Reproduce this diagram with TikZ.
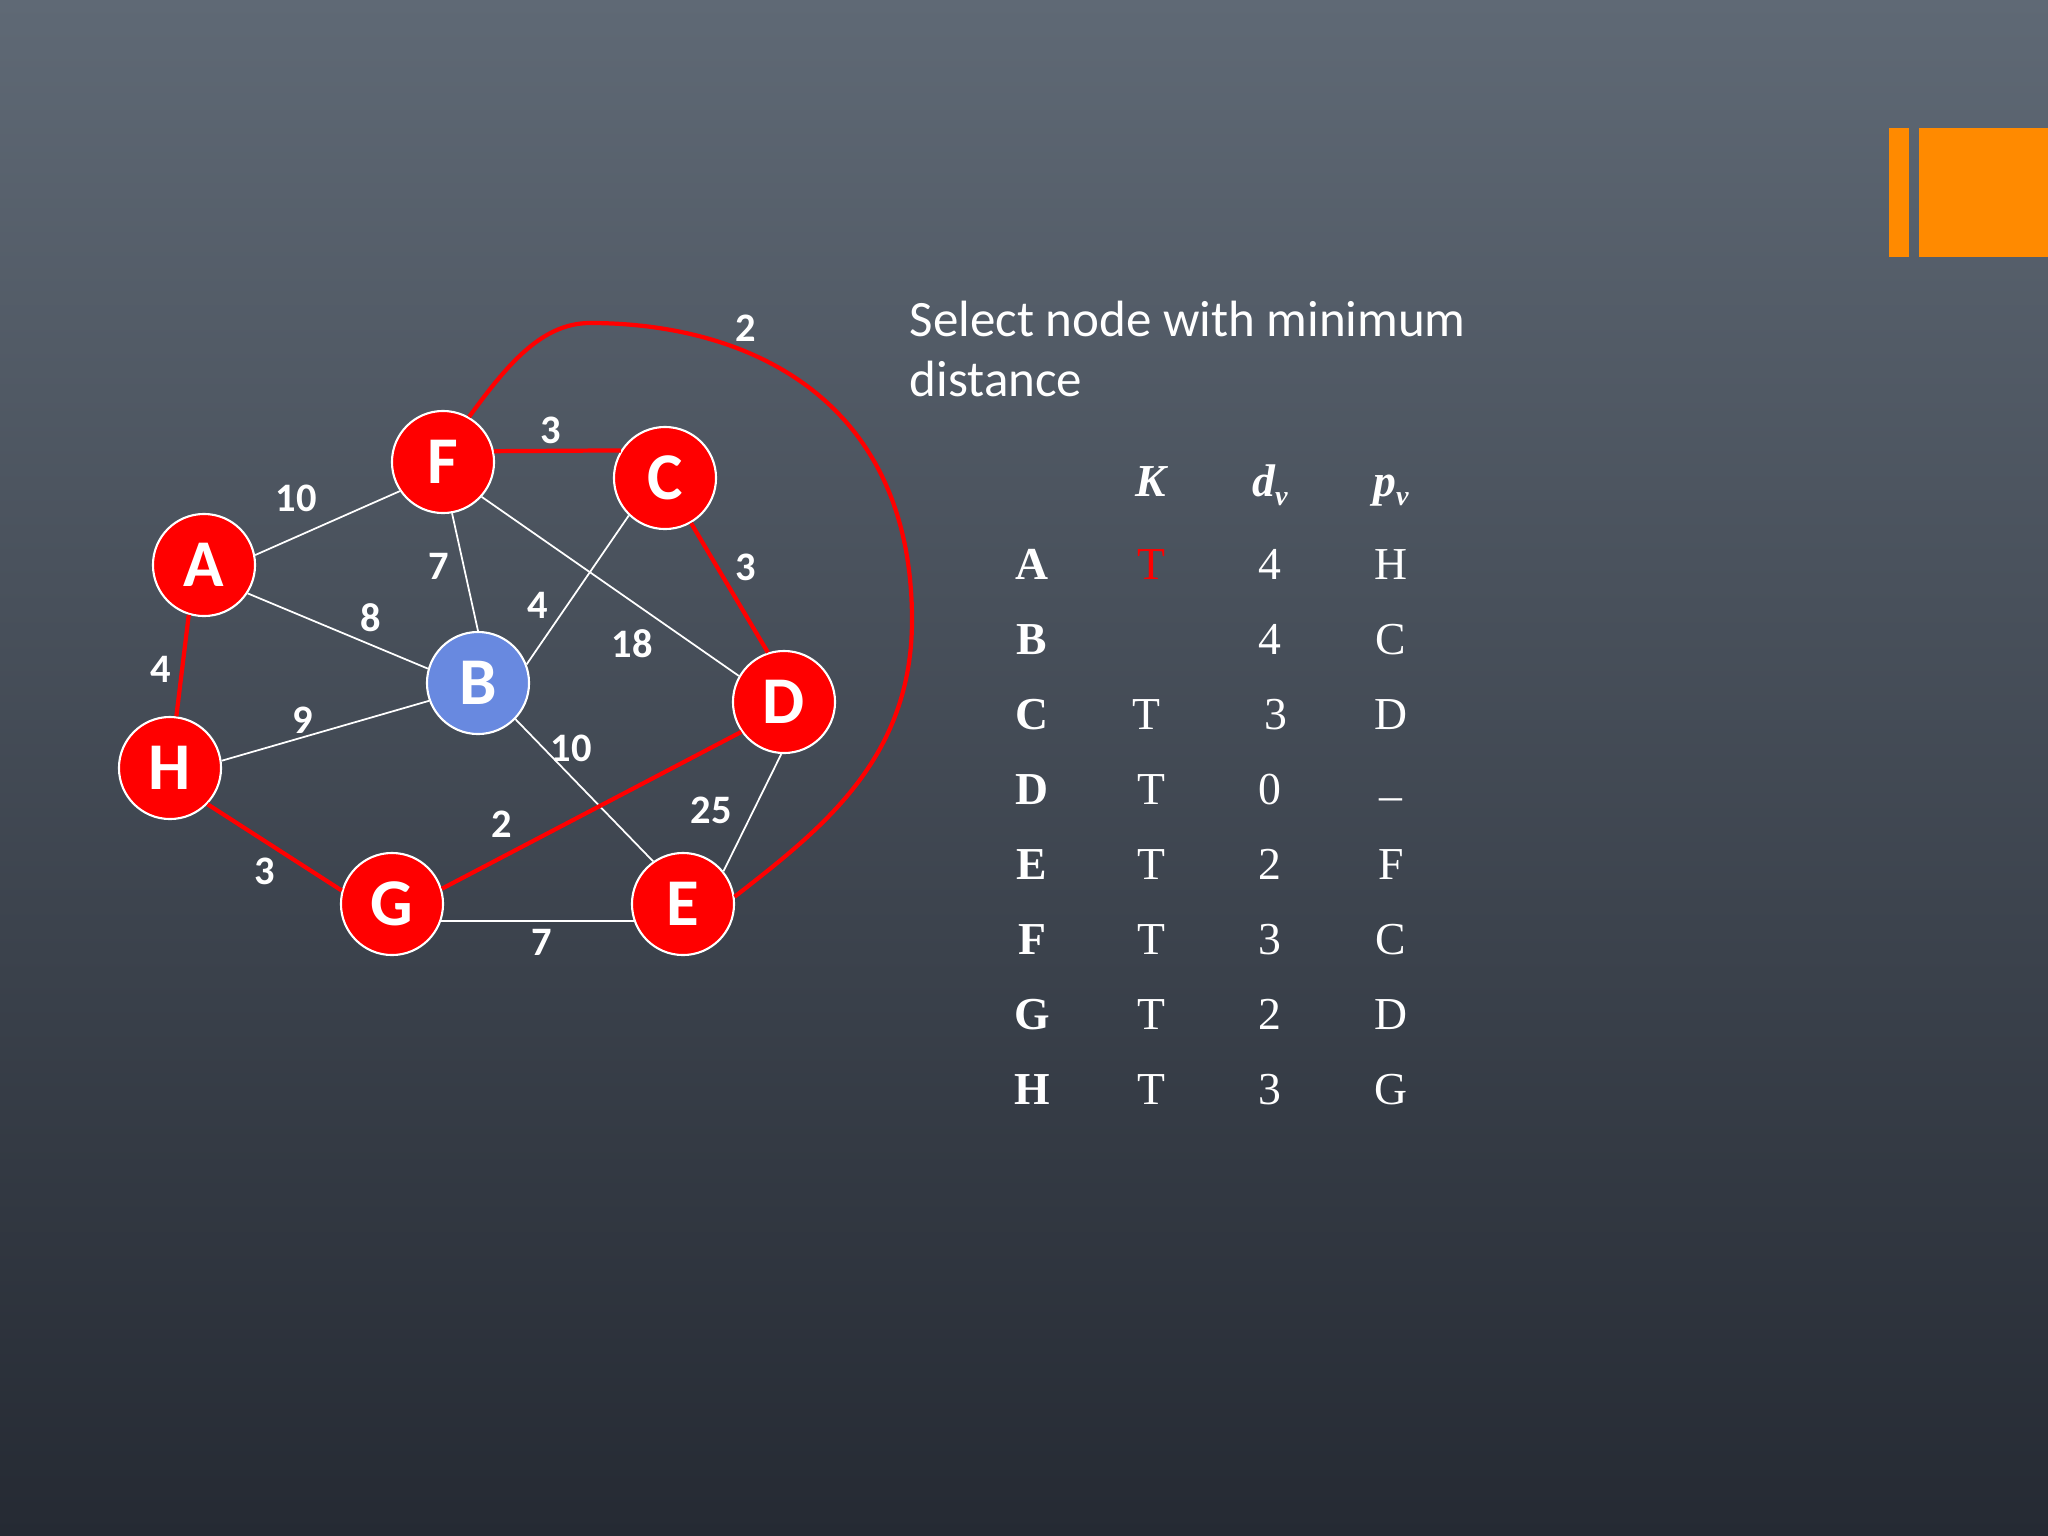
\documentclass[tikz,border=0pt]{standalone}
\usepackage{fontspec}
\setmainfont{Liberation Serif}
\newfontfamily\calibri{Carlito}
\usepackage{xcolor}
\usetikzlibrary{positioning}

\definecolor{bgtop}{HTML}{5F6975}
\definecolor{bgbot}{HTML}{252A33}
\definecolor{slideorange}{HTML}{FF8A00}
\definecolor{nodeblue}{HTML}{6889E0}

\tikzset{
  vtx/.style={shape=circle,draw=white,line width=0.6pt,fill=red,minimum size=1.02cm,inner sep=0pt,
    text=white,font=\calibri\bfseries\fontsize{19}{19}\selectfont},
  wedge/.style={draw=white,line width=0.5pt},
  redge/.style={draw=red,line width=1.2pt},
  wlab/.style={text=white,font=\calibri\bfseries\fontsize{11.5}{12}\selectfont},
  tabhead/.style={text=white,anchor=base,font=\bfseries\itshape\fontsize{13}{13}\selectfont},
  tabrow/.style={text=white,anchor=base,font=\bfseries\fontsize{13}{13}\selectfont},
  tabcell/.style={text=white,anchor=base,font=\fontsize{13}{13}\selectfont}
}

\begin{document}
\begin{tikzpicture}[x=0.01cm,y=-0.01cm]
\useasboundingbox (0,0) rectangle (2048,1536);
\shade[top color=bgtop,bottom color=bgbot] (0,0) rectangle (2048,1536);

% orange corner marks
\fill[slideorange] (1889,128) rectangle (1909,257);
\fill[slideorange] (1919,128) rectangle (2048,257);

% vertices
\node[vtx] (F) at (443,462) {F};
\node[vtx] (C) at (665,478) {C};
\node[vtx] (A) at (204,565) {A};
\node[vtx,fill=nodeblue] (B) at (478,683) {B};
\node[vtx] (D) at (784,702) {D};
\node[vtx] (H) at (170,768) {H};
\node[vtx] (G) at (392,904) {G};
\node[vtx] (E) at (683,904) {E};

% plain edges
\draw[wedge](A.11)--(F.214);
\draw[wedge](F.280)--(B.90);
\draw[wedge](A.327)--(B.164);
\draw[wedge](C.226)--(B.21);
\draw[wedge](F.318)--(D.150);
\draw[wedge](H.8)--(B.200);
\draw[wedge](B.316)--(E.125);
\draw[wedge](D.267)--(E.39);
\draw[wedge](G.-19)--(E.199);

% tree edges
\draw[redge](F.12)--(C.148);
\draw[redge](C.300)--(D.108);
\draw[redge](A.253)--(H.83);
\draw[redge](H.316)--(G.165);
\draw[redge](G.17)--(D.215);
\coordinate (ftop) at (590,323);
\coordinate (fright) at (912,620);
\draw[redge](F.60) .. controls (505,368) and (540,323) .. (ftop)
  .. controls (750,323) and (912,400) .. (fright)
  .. controls (912,760) and (820,830) .. (E.8);

% weights
\node[wlab] (wAF) at (296,498) {10};
\node[wlab] (wFC) at (551,430) {3};
\node[wlab] (wFE) at (746,328) {2};
\node[wlab] (wFB) at (439,566) {7};
\node[wlab] (wCD) at (746,567) {3};
\node[wlab] (wAB) at (371,618) {8};
\node[wlab] (wCB) at (538,605) {4};
\node[wlab] (wFD) at (632,644) {18};
\node[wlab] (wAH) at (161,669) {4};
\node[wlab] (wHB) at (303,720) {9};
\node[wlab] (wBE) at (571,748) {10};
\node[wlab] (wDE) at (711,810) {25};
\node[wlab] (wGD) at (502,824) {2};
\node[wlab] (wHG) at (265,871) {3};
\node[wlab] (wGE) at (542,942) {7};

% caption
\node[anchor=base west,text=white,align=left,inner sep=0pt,
  font=\calibri\fontsize{14.5}{16.8}\selectfont] (cap) at (909,396)
  {Select node with minimum\\distance};

% table
\node[tabhead] (hK) at (1151,496) {K};
\node[tabhead] (hd) at (1270,496) {d\raisebox{-0.45ex}{\fontsize{8}{8}\selectfont v}};
\node[tabhead] (hp) at (1391,496) {p\raisebox{-0.45ex}{\fontsize{8}{8}\selectfont v}};

\node[tabrow] (rA) at (1032,579) {A};
\node[tabcell,text=red] (kA) at (1151,579) {T};
\node[tabcell] (dA) at (1270,579) {4};
\node[tabcell] (pA) at (1391,579) {H};

\node[tabrow] (rB) at (1032,654) {B};
\node[tabcell] (dB) at (1270,654) {4};
\node[tabcell] (pB) at (1391,654) {C};

\node[tabrow] (rC) at (1032,729) {C};
\node[tabcell] (kC) at (1146,729) {T};
\node[tabcell] (dC) at (1276,729) {3};
\node[tabcell] (pC) at (1391,729) {D};

\node[tabrow] (rD) at (1032,804) {D};
\node[tabcell] (kD) at (1151,804) {T};
\node[tabcell] (dD) at (1270,804) {0};
\node[tabcell] (pD) at (1391,810) {--};

\node[tabrow] (rE) at (1032,879) {E};
\node[tabcell] (kE) at (1151,879) {T};
\node[tabcell] (dE) at (1270,879) {2};
\node[tabcell] (pE) at (1391,879) {F};

\node[tabrow] (rF) at (1032,954) {F};
\node[tabcell] (kF) at (1151,954) {T};
\node[tabcell] (dF) at (1270,954) {3};
\node[tabcell] (pF) at (1391,954) {C};

\node[tabrow] (rG) at (1032,1029) {G};
\node[tabcell] (kG) at (1151,1029) {T};
\node[tabcell] (dG) at (1270,1029) {2};
\node[tabcell] (pG) at (1391,1029) {D};

\node[tabrow] (rH) at (1032,1104) {H};
\node[tabcell] (kH) at (1151,1104) {T};
\node[tabcell] (dH) at (1270,1104) {3};
\node[tabcell] (pH) at (1391,1104) {G};
\end{tikzpicture}
\end{document}
